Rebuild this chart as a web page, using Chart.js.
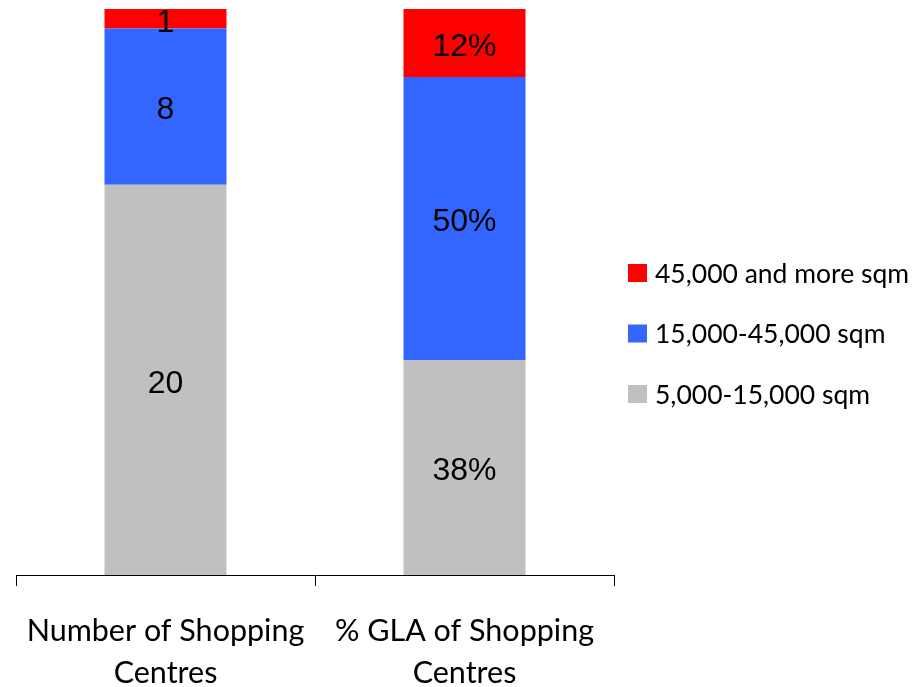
<!DOCTYPE html>
<html>
<head>
<meta charset="utf-8">
<script src="https://cdn.jsdelivr.net/npm/chart.js@4.4.1/dist/chart.umd.min.js"></script>
<style>
  html, body { margin: 0; padding: 0; background: #fff; }
  #wrap { width: 917px; height: 687px; }
</style>
</head>
<body>
<div id="wrap"><canvas id="chart" width="917" height="687"></canvas></div>
<script>
// ================= Data =================
const categories = [['Number of Shopping', 'Centres'], ['% GLA of Shopping', 'Centres']];
const bandNames = ['5,000-15,000 sqm', '15,000-45,000 sqm', '45,000 and more sqm'];
const bandColors = ['#C0C0C0', '#3366FF', '#FF0000'];
const centreCounts = [20, 8, 1];   // number of shopping centres per band
const glaShares = [38, 50, 12];    // % of GLA per band

const totalCentres = centreCounts.reduce((a, b) => a + b, 0);

// 100% stacked: the count bar is shown as shares of the total
const datasets = bandNames.map((name, i) => ({
  label: name,
  data: [centreCounts[i] / totalCentres * 100, glaShares[i]],
  display: [String(centreCounts[i]), glaShares[i] + '%'],
  backgroundColor: bandColors[i],
  borderWidth: 0,
  categoryPercentage: 1,
  barPercentage: 0.408
}));

// ================= Plugins =================
const barLabels = {
  id: 'barLabels',
  afterDatasetsDraw(chart) {
    const ctx = chart.ctx;
    ctx.save();
    ctx.font = '32px "Liberation Sans", Arial, sans-serif';
    ctx.fillStyle = '#000';
    ctx.textAlign = 'center';
    ctx.textBaseline = 'middle';
    chart.data.datasets.forEach((ds, di) => {
      chart.getDatasetMeta(di).data.forEach((bar, j) => {
        ctx.fillText(ds.display[j], bar.x, (bar.y + bar.base) / 2 + 4);
      });
    });
    ctx.restore();
  }
};

const sideLegend = {
  id: 'sideLegend',
  afterDraw(chart) {
    const ctx = chart.ctx;
    const x = chart.chartArea.right + 14;
    let y = 273;
    ctx.save();
    ctx.font = '26.5px Lato, "Open Sans", sans-serif';
    ctx.textBaseline = 'middle';
    ctx.textAlign = 'left';
    chart.data.datasets.slice().reverse().forEach(ds => {
      ctx.fillStyle = ds.backgroundColor;
      ctx.fillRect(x, y - 9, 19, 18);
      ctx.fillStyle = '#000';
      ctx.fillText(ds.label, x + 27, y + 1);
      y += 60.5;
    });
    ctx.restore();
  }
};

// ================= Chart =================
new Chart(document.getElementById('chart').getContext('2d'), {
  type: 'bar',
  data: { labels: categories, datasets: datasets },
  plugins: [barLabels, sideLegend],
  options: {
    responsive: false,
    animation: false,
    layout: { padding: { left: 16, right: 303, top: 9, bottom: 0 } },
    plugins: { legend: { display: false }, tooltip: { enabled: false } },
    scales: {
      x: {
        stacked: true,
        grid: { display: true, drawOnChartArea: false, drawTicks: true, tickLength: 11, color: '#000', lineWidth: 1, offset: true },
        border: { display: true, color: '#000', width: 1 },
        ticks: {
          color: '#000',
          padding: 24,
          maxRotation: 0,
          autoSkip: false,
          font: { family: 'Lato, "Open Sans", sans-serif', size: 30.5, lineHeight: '42px' }
        },
        afterFit: (scale) => {
          scale.height = 112;
          scale.paddingLeft = 0;
          scale.paddingRight = 0;
        }
      },
      y: { stacked: true, display: false, min: 0, max: 100 }
    }
  }
});
</script>
</body>
</html>
